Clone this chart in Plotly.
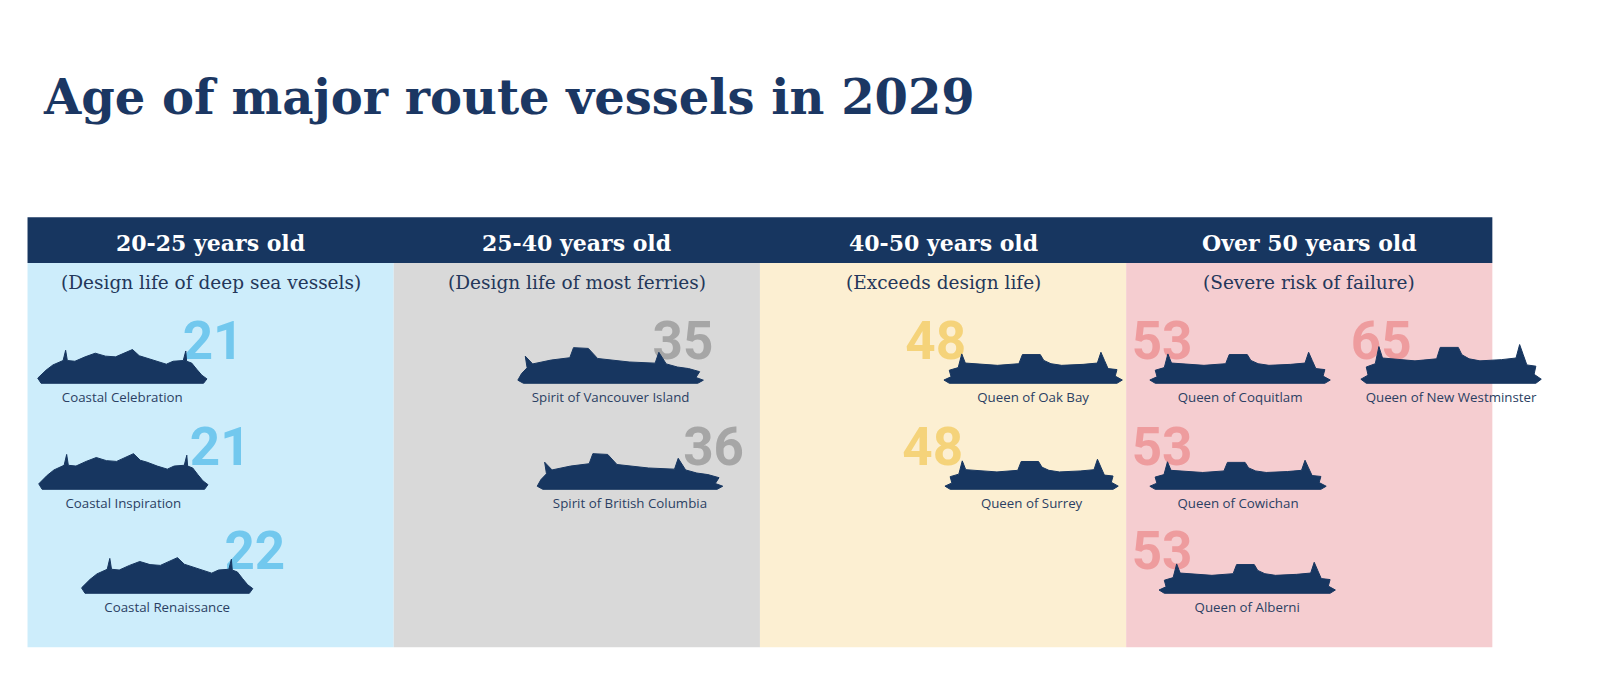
import plotly.graph_objects as go

# data
categories = ["20-25 years old", "25-40 years old", "40-50 years old", "Over 50 years old"]
subtitles = ["(Design life of deep sea vessels)", "(Design life of most ferries)",
             "(Exceeds design life)", "(Severe risk of failure)"]
vessels = ["Coastal Celebration", "Coastal Inspiration", "Coastal Renaissance",
           "Spirit of Vancouver Island", "Spirit of British Columbia",
           "Queen of Oak Bay", "Queen of Surrey",
           "Queen of Coquitlam", "Queen of New Westminster", "Queen of Cowichan", "Queen of Alberni"]
ages = [21, 21, 22, 35, 36, 48, 48, 53, 65, 53, 53]
vessel_cat = [0, 0, 0, 1, 1, 2, 2, 3, 3, 3, 3]
vessel_class = ["coastal", "coastal", "coastal", "spirit", "spirit",
                "queen", "queen", "queen", "queen", "queen", "queen"]

# layout (coordinates in screenshot pixels)
SCALE = 0.981           # page px -> screenshot px
PAD = 8                 # body margin
FIG_W, FIG_H = 1612, 697
NAVY = "#173660"
panel_fill = ["#cdedfb", "#d9d9d9", "#fcefd2", "#f5cdd0"]
num_color = ["#72c8ee", "#a6a6a6", "#f5d37a", "#ee9c9e"]
col_x0, col_w = 27, 359.25
band_top, band_bot, panel_bot = 213, 258, 635
row_base = [376, 480, 582]
ship_x0 = [37, 38, 80, 508, 527, 926, 927, 1128, 1335, 1128, 1137]
ship_w = [166, 166, 168, 182, 182, 175, 170, 177, 177, 173, 173]
ship_h = [36, 38, 38, 38, 38, 32, 31, 32, 40, 30, 32]
ship_row = [0, 1, 2, 0, 1, 0, 1, 0, 0, 1, 2]
num_x = [209, 216, 250, 670, 700, 918, 915, 1140, 1355, 1140, 1140]

# silhouette templates (normalised, x 0..1, y 0..1 upward)
templates = {
    "coastal": [(0.02, 0), (0.98, 0), (1.0, 0.12), (0.97, 0.22), (0.94, 0.38), (0.91, 0.55),
                (0.88, 0.6), (0.875, 0.88), (0.86, 0.62), (0.8, 0.6), (0.76, 0.52), (0.7, 0.6),
                (0.64, 0.7), (0.6, 0.75), (0.56, 0.92), (0.52, 0.84), (0.46, 0.72), (0.4, 0.74),
                (0.34, 0.82), (0.28, 0.72), (0.22, 0.6), (0.175, 0.62), (0.165, 0.9), (0.15, 0.62),
                (0.09, 0.5), (0.05, 0.36), (0.0, 0.14)],
    "spirit": [(0.03, 0), (0.97, 0), (1.0, 0.08), (0.96, 0.15), (0.98, 0.3), (0.92, 0.38),
               (0.86, 0.42), (0.8, 0.5), (0.76, 0.8), (0.74, 0.52), (0.6, 0.55), (0.5, 0.6),
               (0.43, 0.64), (0.38, 0.9), (0.3, 0.92), (0.28, 0.66), (0.18, 0.6), (0.08, 0.5),
               (0.04, 0.7), (0.05, 0.4), (0.02, 0.25), (0.0, 0.08)],
    "queen": [(0.03, 0), (0.97, 0), (1.0, 0.1), (0.96, 0.22), (0.97, 0.42), (0.92, 0.45),
              (0.9, 0.7), (0.88, 0.95), (0.86, 0.62), (0.78, 0.58), (0.66, 0.55), (0.6, 0.6),
              (0.56, 0.7), (0.54, 0.88), (0.44, 0.88), (0.42, 0.6), (0.3, 0.55), (0.2, 0.58),
              (0.12, 0.62), (0.1, 0.9), (0.08, 0.48), (0.03, 0.4), (0.04, 0.2), (0.0, 0.1)],
}

fig = go.Figure()

shapes = []
for i in range(len(categories)):
    shapes.append(dict(type="rect", x0=col_x0 + i * col_w, x1=col_x0 + (i + 1) * col_w,
                       y0=band_bot, y1=panel_bot, fillcolor=panel_fill[i], line=dict(width=0), layer="below"))
shapes.append(dict(type="rect", x0=col_x0, x1=col_x0 + 4 * col_w, y0=band_top, y1=band_bot,
                   fillcolor=NAVY, line=dict(width=0), layer="below"))

# age numbers behind the ships
for i, v in enumerate(vessels):
    fig.add_trace(go.Scatter(
        x=[num_x[i]], y=[row_base[ship_row[i]] - 37], mode="text", text=[str(ages[i])],
        textfont=dict(family="Roboto", size=53, color=num_color[vessel_cat[i]], weight="bold"),
        hoverinfo="skip", showlegend=False))

# ship silhouettes
for i, v in enumerate(vessels):
    pts = templates[vessel_class[i]]
    base = row_base[ship_row[i]]
    xs = [ship_x0[i] + p[0] * ship_w[i] for p in pts]
    ys = [base - p[1] * ship_h[i] for p in pts]
    fig.add_trace(go.Scatter(x=xs + [xs[0]], y=ys + [ys[0]], mode="lines", fill="toself",
                             fillcolor=NAVY, line=dict(color=NAVY, width=1),
                             hoverinfo="skip", showlegend=False))

# vessel names
fig.add_trace(go.Scatter(
    x=[ship_x0[i] + ship_w[i] / 2 for i in range(len(vessels))],
    y=[row_base[ship_row[i]] + 15 for i in range(len(vessels))],
    mode="text", text=vessels,
    textfont=dict(family="Open Sans", size=13.3, color="#2b3f63"),
    hoverinfo="skip", showlegend=False))

annotations = [dict(x=40, y=95, xref="x", yref="y", text="Age of major route vessels in 2029",
                    showarrow=False, xanchor="left", yanchor="middle",
                    font=dict(family="DejaVu Serif", size=48, color="#1b3763", weight="bold"))]
for i in range(len(categories)):
    cx = col_x0 + (i + 0.5) * col_w
    annotations.append(dict(x=cx, y=238, xref="x", yref="y", text=categories[i], showarrow=False,
                            font=dict(family="DejaVu Serif", size=22, color="white", weight="bold")))
    annotations.append(dict(x=cx, y=277, xref="x", yref="y", text=subtitles[i], showarrow=False,
                            font=dict(family="DejaVu Serif", size=18.5, color="#24375a")))

fig.update_layout(
    width=FIG_W, height=FIG_H,
    margin=dict(l=0, r=0, t=0, b=0),
    paper_bgcolor="white", plot_bgcolor="white",
    xaxis=dict(range=[PAD * SCALE, (PAD + FIG_W) * SCALE], visible=False, fixedrange=True),
    yaxis=dict(range=[(PAD + FIG_H) * SCALE, PAD * SCALE], visible=False, fixedrange=True),
    shapes=shapes, annotations=annotations,
)

fig.write_html("out.html")
